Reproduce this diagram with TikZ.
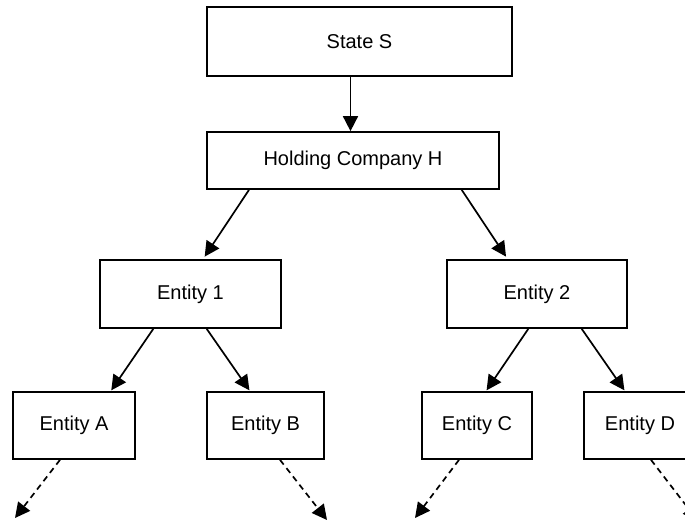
\documentclass[tikz,border=0pt]{standalone}
\usepackage{fontspec}
\setmainfont{Liberation Sans}
\usetikzlibrary{arrows.meta,calc}
\begin{document}
\begin{tikzpicture}[x=1pt,y=-1pt,
  box/.style={draw,line width=1.7pt,inner sep=0pt,font=\fontsize{20}{24}\selectfont},
  link/.style={line width=1.7pt,-{Triangle[length=15pt,width=15pt]}},
  dlink/.style={link,dash pattern=on 6pt off 4.5pt}]
\useasboundingbox (0,0) rectangle (685,521);
\clip (0,0) rectangle (685,521);
\node[box,minimum width=305pt,minimum height=69pt] (S) at (359.5,41.5) {State S};
\node[box,minimum width=292pt,minimum height=57pt] (H) at (353,160.5) {Holding Company H};
\node[box,minimum width=181pt,minimum height=68pt] (E1) at (190.5,294) {Entity 1};
\node[box,minimum width=180pt,minimum height=68pt] (E2) at (537,294) {Entity 2};
\node[box,minimum width=122pt,minimum height=67pt] (A) at (74,425.5) {Entity A};
\node[box,minimum width=117pt,minimum height=67pt] (B) at (265.5,425.5) {Entity B};
\node[box,minimum width=110pt,minimum height=67pt] (C) at (477,425.5) {Entity C};
\node[box,minimum width=112pt,minimum height=67pt] (D) at (640,425.5) {Entity D};
\coordinate (Aout) at (15,518);
\coordinate (Bout) at (327,520);
\coordinate (Cout) at (415,518);
\coordinate (Dout) at (698,521);
\draw[link] ([xshift=-9pt]S.south) -- ([xshift=-9pt]S.south |- H.north);
\draw[link,shorten >=3pt] ([xshift=-104pt]H.south) -- ([xshift=12.5pt]E1.north);
\draw[link,shorten >=3pt] ([xshift=108.7pt]H.south) -- ([xshift=-29.3pt]E2.north);
\draw[link,shorten >=1pt] ([xshift=-37.2pt]E1.south) -- ([xshift=36.7pt]A.north);
\draw[link,shorten >=1pt] ([xshift=16.2pt]E1.south) -- ([xshift=-15.5pt]B.north);
\draw[link,shorten >=1pt] ([xshift=-8.7pt]E2.south) -- ([xshift=9pt]C.north);
\draw[link,shorten >=1pt] ([xshift=44.7pt]E2.south) -- ([xshift=-15pt]D.north);
\draw[dlink] ([xshift=-14pt]A.south) -- (Aout);
\draw[dlink] ([xshift=14.5pt]B.south) -- (Bout);
\draw[dlink] ([xshift=-18pt]C.south) -- (Cout);
\draw[dlink] ([xshift=11pt]D.south) -- (Dout);
\end{tikzpicture}
\end{document}
